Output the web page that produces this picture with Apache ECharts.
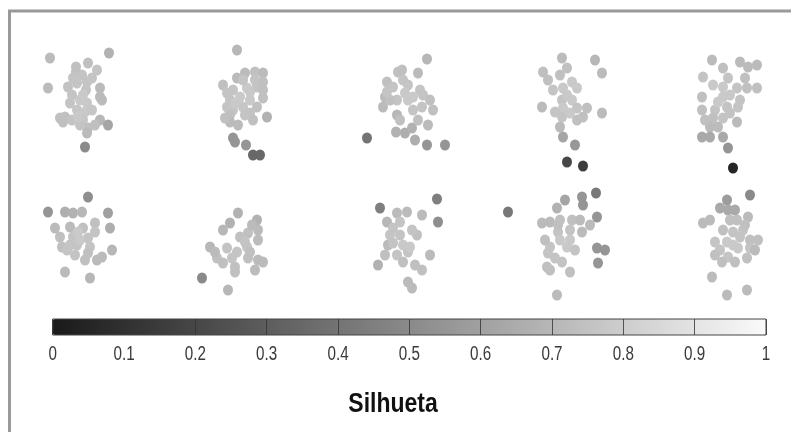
<!DOCTYPE html>
<html>
<head>
<meta charset="utf-8">
<script src="https://cdn.jsdelivr.net/npm/echarts@6/dist/echarts.min.js"></script>
<style>html,body{margin:0;padding:0;background:#fff}#c{width:791px;height:432px}</style>
</head>
<body>
<div id="c"></div>
<script>
// Each point: [x, y, silhouette]
var cluster1 = [[50,58,.72],[109,53,.68],[48,88,.72],[76,67,.74],[76,72,.74],[88,63,.74],[97,70,.76],[73,78,.76],[87,82,.76],[100,88,.72],[100,97,.72],[68,87,.75],[72,95,.76],[80,100,.78],[87,103,.78],[77,110,.77],[85,112,.78],[65,117,.74],[72,120,.76],[83,120,.77],[100,120,.7],[108,125,.62],[88,128,.74],[80,125,.76],[87,133,.72],[85,147,.5],[63,122,.74],[86,90,.76],[102,100,.72],[77,83,.76],[82,75,.76],[92,78,.76],[70,103,.76],[92,110,.77],[78,117,.78],[95,125,.74],[60,118,.74],[83,95,.78]];
var cluster2 = [[237,50,.7],[237,78,.72],[245,73,.72],[255,72,.74],[263,73,.72],[223,85,.74],[233,90,.76],[247,88,.78],[257,87,.76],[230,100,.76],[240,97,.78],[250,100,.78],[263,98,.74],[227,107,.76],[233,110,.76],[243,107,.77],[257,107,.74],[230,115,.74],[250,113,.75],[267,117,.68],[230,122,.72],[238,125,.72],[253,120,.74],[233,138,.55],[235,142,.55],[246,145,.55],[253,155,.35],[260,155,.35],[255,80,.76],[263,90,.74],[263,82,.74],[227,93,.76],[245,115,.76],[235,103,.78],[250,92,.78],[243,80,.76],[225,118,.74]];
var cluster3 = [[367,138,.4],[387,82,.74],[385,97,.72],[383,107,.72],[397,100,.76],[398,72,.74],[427,59,.7],[418,73,.72],[402,70,.74],[393,87,.76],[408,85,.76],[413,97,.78],[423,95,.76],[430,100,.74],[433,110,.74],[397,115,.7],[413,110,.76],[422,107,.76],[396,132,.68],[405,133,.66],[412,128,.68],[415,140,.66],[427,145,.55],[445,145,.55],[420,90,.76],[403,80,.76],[390,100,.74],[408,100,.78],[400,120,.74],[418,120,.74],[428,125,.72],[387,92,.76],[405,93,.78]];
var cluster4 = [[562,58,.72],[595,60,.7],[602,73,.72],[543,72,.74],[548,80,.74],[560,75,.74],[572,82,.78],[563,88,.78],[577,88,.78],[562,100,.76],[572,100,.78],[542,107,.72],[563,108,.78],[577,108,.76],[587,108,.74],[602,113,.72],[562,117,.76],[577,120,.74],[583,117,.74],[560,127,.72],[563,137,.62],[575,145,.56],[567,162,.2],[583,166,.15],[567,95,.78],[555,112,.76],[570,113,.78],[553,90,.76],[567,68,.74]];
var cluster5 = [[712,60,.72],[723,68,.74],[740,62,.72],[748,67,.72],[757,65,.72],[703,77,.76],[713,85,.78],[723,87,.78],[737,88,.76],[747,88,.74],[757,88,.74],[702,97,.74],[723,97,.78],[740,100,.76],[702,110,.74],[715,110,.76],[727,107,.76],[738,107,.76],[713,118,.74],[723,118,.76],[737,122,.72],[710,127,.72],[718,127,.72],[702,137,.64],[710,137,.64],[723,137,.64],[728,148,.55],[733,168,.05],[730,95,.78],[728,78,.76],[718,102,.78],[730,113,.76],[745,78,.74],[705,120,.74]];
var cluster6 = [[88,197,.52],[48,212,.55],[65,212,.66],[73,213,.68],[82,212,.7],[108,213,.6],[95,223,.74],[110,228,.66],[70,227,.72],[83,228,.74],[60,237,.74],[73,237,.76],[88,238,.76],[62,247,.74],[77,245,.76],[90,247,.76],[112,250,.7],[102,257,.72],[97,260,.72],[85,260,.74],[65,272,.72],[90,278,.7],[67,250,.76],[80,240,.78],[78,232,.78],[70,245,.76],[95,232,.76],[55,228,.72],[88,253,.74],[75,255,.76]];
var cluster7 = [[238,213,.68],[257,220,.68],[230,223,.68],[223,230,.7],[240,237,.74],[248,233,.74],[258,230,.72],[258,240,.72],[210,247,.7],[227,248,.76],[237,252,.76],[247,247,.76],[217,258,.74],[223,263,.74],[248,258,.74],[258,260,.72],[263,262,.72],[235,267,.74],[255,270,.72],[235,272,.74],[202,278,.5],[228,290,.7],[245,242,.76],[232,258,.76],[250,252,.74],[252,225,.72],[215,252,.72]];
var cluster8 = [[380,208,.45],[387,222,.7],[388,245,.72],[378,265,.68],[437,199,.45],[438,222,.52],[397,213,.72],[407,212,.72],[422,215,.72],[393,228,.76],[400,235,.76],[417,235,.74],[393,243,.76],[403,245,.78],[408,252,.76],[397,255,.76],[430,255,.72],[415,265,.74],[422,270,.74],[408,282,.72],[412,288,.72],[410,247,.78],[400,222,.76],[412,230,.76],[390,235,.76],[403,262,.74],[385,255,.74]];
var cluster9 = [[508,212,.42],[582,197,.55],[583,205,.55],[596,193,.42],[565,200,.62],[557,208,.68],[597,217,.55],[542,223,.72],[550,222,.72],[560,220,.74],[572,220,.74],[580,220,.72],[558,232,.76],[570,230,.76],[582,232,.72],[570,240,.78],[567,247,.78],[550,247,.76],[548,253,.76],[597,248,.55],[605,250,.55],[555,258,.76],[598,263,.55],[547,267,.74],[550,270,.74],[570,272,.74],[557,295,.72],[560,240,.78],[575,250,.76],[558,225,.74],[562,262,.76],[590,225,.72],[545,240,.74]];
var cluster10 = [[750,195,.5],[727,200,.58],[720,208,.64],[728,210,.64],[735,210,.64],[703,223,.72],[710,220,.72],[730,220,.74],[737,220,.74],[748,217,.72],[733,232,.76],[743,230,.76],[715,242,.76],[727,242,.78],[740,237,.76],[750,240,.74],[758,240,.74],[738,248,.78],[750,248,.76],[720,250,.76],[728,257,.76],[722,262,.74],[747,258,.74],[712,277,.72],[727,295,.72],[747,290,.72],[723,230,.74],[745,225,.74],[733,245,.78],[735,262,.74],[715,255,.74],[755,250,.72]];
var clusters = [cluster1, cluster2, cluster3, cluster4, cluster5, cluster6, cluster7, cluster8, cluster9, cluster10];
var colorbarTicks = ['0','0.1','0.2','0.3','0.4','0.5','0.6','0.7','0.8','0.9','1'];
var colorbarTitle = 'Silhueta';

var chart = echarts.init(document.getElementById('c'), null, {renderer: 'canvas'});
var series = clusters.map(function (c) {
  return {
    type: 'scatter', xAxisIndex: 0, yAxisIndex: 0,
    data: c, symbol: 'circle', symbolSize: [10, 11],
    itemStyle: {opacity: 1}, silent: true, z: 2
  };
});
var font = "'Liberation Sans', Arial, sans-serif";
series.push({
  type: 'custom', xAxisIndex: 1, yAxisIndex: 1, silent: true, z: 8,
  data: colorbarTicks.map(function (t) { return [parseFloat(t), 0]; }),
  renderItem: function (params, api) {
    var p = api.coord([api.value(0), 0]);
    return {
      type: 'text', x: p[0], y: p[1] + 9, scaleX: 0.76,
      style: {text: colorbarTicks[params.dataIndex], fill: '#3a3a3a', font: '20px ' + font,
              textAlign: 'center', textVerticalAlign: 'top'}
    };
  }
});
chart.setOption({
  animation: false,
  backgroundColor: '#fff',
  grid: [
    {left: 0, right: 0, top: 0, bottom: 0},
    {left: 52.7, width: 713.3, top: 319, height: 16, show: true, z: 6,
     backgroundColor: 'transparent', borderColor: '#444', borderWidth: 1}
  ],
  xAxis: [
    {gridIndex: 0, type: 'value', min: 0, max: 791, show: false},
    {gridIndex: 1, type: 'value', min: 0, max: 1, interval: 0.1, z: 6,
     axisLine: {show: false}, axisTick: {show: false}, axisLabel: {show: false},
     splitLine: {show: true, lineStyle: {color: '#333', width: 1, opacity: 0.8}}}
  ],
  yAxis: [
    {gridIndex: 0, type: 'value', min: 0, max: 432, inverse: true, show: false},
    {gridIndex: 1, type: 'value', min: 0, max: 1, show: false}
  ],
  visualMap: {
    type: 'continuous', min: 0, max: 1, dimension: 2,
    seriesIndex: clusters.map(function (c, i) { return i; }),
    orient: 'horizontal', left: 52.7, top: 319, itemWidth: 16, itemHeight: 713.3,
    padding: 0, text: null, showLabel: false, calculable: false, realtime: false,
    inRange: {color: ['#1a1a1a', '#fafafa']}, z: 4, hoverLink: false
  },
  graphic: [
    {type: 'rect', shape: {x: 9.5, y: 11, width: 800, height: 430}, z: 10, silent: true,
     style: {fill: 'none', stroke: '#9a9a9a', lineWidth: 3}},
    {type: 'text', x: 393, y: 404, scaleX: 0.82, z: 10, silent: true,
     style: {text: colorbarTitle, font: 'bold 28px ' + font, fill: '#111',
             textAlign: 'center', textVerticalAlign: 'middle'}}
  ],
  series: series
});
</script>
</body>
</html>
